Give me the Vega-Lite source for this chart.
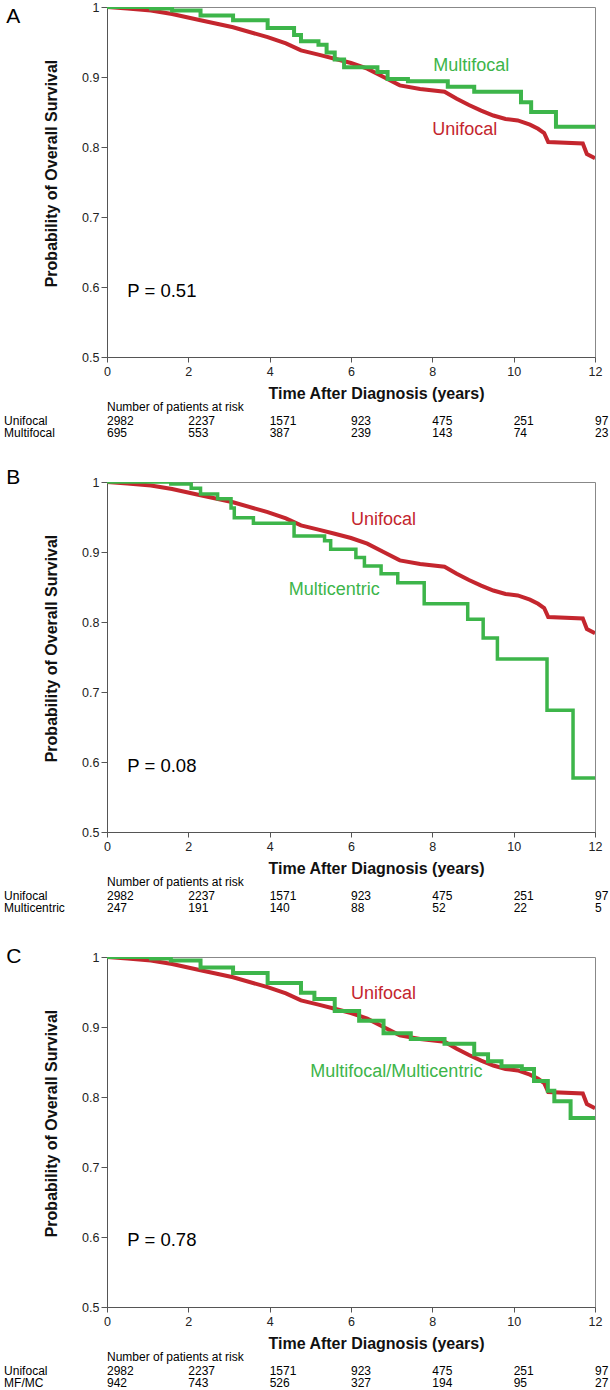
{
  "$schema": "https://vega.github.io/schema/vega-lite/v6.json",
  "background": "white",
  "padding": {"left": 3, "top": 0, "right": 0, "bottom": 0},
  "autosize": {"type": "pad"},
  "bounds": "flush",
  "spacing": 125,
  "config": {
    "font": "Liberation Sans",
    "view": {"stroke": "#888", "strokeWidth": 1},
    "axis": {
      "domainColor": "#555", "tickColor": "#555", "labelColor": "#222",
      "labelFont": "Liberation Sans", "labelFontSize": 12.5,
      "titleFont": "Liberation Sans", "titleFontSize": 16, "titleFontWeight": "bold", "titleColor": "#111",
      "grid": false, "labelFlush": false, "labelOverlap": false
    },
    "text": {"font": "Liberation Sans"}
  },
  "datasets": {
    "curves": [
      {"panel": "all", "series": "Unifocal", "t": 0, "s": 1.0},
      {"panel": "all", "series": "Unifocal", "t": 0.5, "s": 0.998},
      {"panel": "all", "series": "Unifocal", "t": 1.08, "s": 0.995},
      {"panel": "all", "series": "Unifocal", "t": 1.6, "s": 0.99},
      {"panel": "all", "series": "Unifocal", "t": 2.3, "s": 0.981},
      {"panel": "all", "series": "Unifocal", "t": 3.1, "s": 0.971},
      {"panel": "all", "series": "Unifocal", "t": 3.95, "s": 0.957},
      {"panel": "all", "series": "Unifocal", "t": 4.4, "s": 0.948},
      {"panel": "all", "series": "Unifocal", "t": 4.77, "s": 0.938},
      {"panel": "all", "series": "Unifocal", "t": 5.2, "s": 0.932},
      {"panel": "all", "series": "Unifocal", "t": 5.6, "s": 0.926},
      {"panel": "all", "series": "Unifocal", "t": 6.0, "s": 0.92},
      {"panel": "all", "series": "Unifocal", "t": 6.4, "s": 0.912},
      {"panel": "all", "series": "Unifocal", "t": 6.8, "s": 0.9},
      {"panel": "all", "series": "Unifocal", "t": 7.2, "s": 0.888},
      {"panel": "all", "series": "Unifocal", "t": 7.7, "s": 0.883},
      {"panel": "all", "series": "Unifocal", "t": 8.3, "s": 0.879},
      {"panel": "all", "series": "Unifocal", "t": 8.6, "s": 0.869},
      {"panel": "all", "series": "Unifocal", "t": 8.9, "s": 0.86},
      {"panel": "all", "series": "Unifocal", "t": 9.2, "s": 0.852},
      {"panel": "all", "series": "Unifocal", "t": 9.5, "s": 0.845},
      {"panel": "all", "series": "Unifocal", "t": 9.8, "s": 0.84},
      {"panel": "all", "series": "Unifocal", "t": 10.1, "s": 0.838},
      {"panel": "all", "series": "Unifocal", "t": 10.4, "s": 0.832},
      {"panel": "all", "series": "Unifocal", "t": 10.6, "s": 0.826},
      {"panel": "all", "series": "Unifocal", "t": 10.75, "s": 0.82},
      {"panel": "all", "series": "Unifocal", "t": 10.85, "s": 0.807},
      {"panel": "all", "series": "Unifocal", "t": 11.7, "s": 0.805},
      {"panel": "all", "series": "Unifocal", "t": 11.8, "s": 0.79},
      {"panel": "all", "series": "Unifocal", "t": 12, "s": 0.784},

      {"panel": "A", "series": "Multifocal", "t": 0, "s": 1.0},
      {"panel": "A", "series": "Multifocal", "t": 1.08, "s": 0.998},
      {"panel": "A", "series": "Multifocal", "t": 1.6, "s": 0.995},
      {"panel": "A", "series": "Multifocal", "t": 2.3, "s": 0.988},
      {"panel": "A", "series": "Multifocal", "t": 3.1, "s": 0.981},
      {"panel": "A", "series": "Multifocal", "t": 3.95, "s": 0.97},
      {"panel": "A", "series": "Multifocal", "t": 4.6, "s": 0.96},
      {"panel": "A", "series": "Multifocal", "t": 4.77, "s": 0.951},
      {"panel": "A", "series": "Multifocal", "t": 5.2, "s": 0.946},
      {"panel": "A", "series": "Multifocal", "t": 5.4, "s": 0.935},
      {"panel": "A", "series": "Multifocal", "t": 5.6, "s": 0.925},
      {"panel": "A", "series": "Multifocal", "t": 5.83, "s": 0.914},
      {"panel": "A", "series": "Multifocal", "t": 6.65, "s": 0.907},
      {"panel": "A", "series": "Multifocal", "t": 6.9, "s": 0.897},
      {"panel": "A", "series": "Multifocal", "t": 7.4, "s": 0.894},
      {"panel": "A", "series": "Multifocal", "t": 8.38, "s": 0.886},
      {"panel": "A", "series": "Multifocal", "t": 9.03, "s": 0.879},
      {"panel": "A", "series": "Multifocal", "t": 10.18, "s": 0.864},
      {"panel": "A", "series": "Multifocal", "t": 10.43, "s": 0.85},
      {"panel": "A", "series": "Multifocal", "t": 11.04, "s": 0.829},
      {"panel": "A", "series": "Multifocal", "t": 12, "s": 0.829},

      {"panel": "B", "series": "Multicentric", "t": 0, "s": 1.0},
      {"panel": "B", "series": "Multicentric", "t": 1.57, "s": 0.997},
      {"panel": "B", "series": "Multicentric", "t": 2.07, "s": 0.991},
      {"panel": "B", "series": "Multicentric", "t": 2.3, "s": 0.983},
      {"panel": "B", "series": "Multicentric", "t": 2.72, "s": 0.976},
      {"panel": "B", "series": "Multicentric", "t": 3.05, "s": 0.963},
      {"panel": "B", "series": "Multicentric", "t": 3.13, "s": 0.949},
      {"panel": "B", "series": "Multicentric", "t": 3.6, "s": 0.941},
      {"panel": "B", "series": "Multicentric", "t": 4.6, "s": 0.923},
      {"panel": "B", "series": "Multicentric", "t": 5.35, "s": 0.916},
      {"panel": "B", "series": "Multicentric", "t": 5.5, "s": 0.904},
      {"panel": "B", "series": "Multicentric", "t": 6.12, "s": 0.892},
      {"panel": "B", "series": "Multicentric", "t": 6.33, "s": 0.88},
      {"panel": "B", "series": "Multicentric", "t": 6.74, "s": 0.869},
      {"panel": "B", "series": "Multicentric", "t": 7.15, "s": 0.856},
      {"panel": "B", "series": "Multicentric", "t": 7.8, "s": 0.826},
      {"panel": "B", "series": "Multicentric", "t": 8.87, "s": 0.804},
      {"panel": "B", "series": "Multicentric", "t": 9.25, "s": 0.777},
      {"panel": "B", "series": "Multicentric", "t": 9.6, "s": 0.747},
      {"panel": "B", "series": "Multicentric", "t": 10.82, "s": 0.674},
      {"panel": "B", "series": "Multicentric", "t": 11.46, "s": 0.577},
      {"panel": "B", "series": "Multicentric", "t": 12, "s": 0.577},

      {"panel": "C", "series": "Multifocal/Multicentric", "t": 0, "s": 1.0},
      {"panel": "C", "series": "Multifocal/Multicentric", "t": 1.08, "s": 0.998},
      {"panel": "C", "series": "Multifocal/Multicentric", "t": 1.57, "s": 0.995},
      {"panel": "C", "series": "Multifocal/Multicentric", "t": 2.3, "s": 0.985},
      {"panel": "C", "series": "Multifocal/Multicentric", "t": 3.1, "s": 0.977},
      {"panel": "C", "series": "Multifocal/Multicentric", "t": 3.95, "s": 0.963},
      {"panel": "C", "series": "Multifocal/Multicentric", "t": 4.77, "s": 0.949},
      {"panel": "C", "series": "Multifocal/Multicentric", "t": 5.1, "s": 0.94},
      {"panel": "C", "series": "Multifocal/Multicentric", "t": 5.6, "s": 0.923},
      {"panel": "C", "series": "Multifocal/Multicentric", "t": 6.2, "s": 0.909},
      {"panel": "C", "series": "Multifocal/Multicentric", "t": 6.8, "s": 0.891},
      {"panel": "C", "series": "Multifocal/Multicentric", "t": 7.47, "s": 0.883},
      {"panel": "C", "series": "Multifocal/Multicentric", "t": 8.3, "s": 0.876},
      {"panel": "C", "series": "Multifocal/Multicentric", "t": 9.03, "s": 0.861},
      {"panel": "C", "series": "Multifocal/Multicentric", "t": 9.37, "s": 0.851},
      {"panel": "C", "series": "Multifocal/Multicentric", "t": 9.7, "s": 0.844},
      {"panel": "C", "series": "Multifocal/Multicentric", "t": 10.2, "s": 0.84},
      {"panel": "C", "series": "Multifocal/Multicentric", "t": 10.5, "s": 0.823},
      {"panel": "C", "series": "Multifocal/Multicentric", "t": 10.84, "s": 0.809},
      {"panel": "C", "series": "Multifocal/Multicentric", "t": 11.0, "s": 0.794},
      {"panel": "C", "series": "Multifocal/Multicentric", "t": 11.4, "s": 0.77},
      {"panel": "C", "series": "Multifocal/Multicentric", "t": 12, "s": 0.77}
    ],
    "labels": [
      {"panel": "A", "series": "Multifocal", "t": 8.02, "s": 0.916},
      {"panel": "A", "series": "Unifocal", "t": 8.0, "s": 0.824},
      {"panel": "B", "series": "Unifocal", "t": 6.0, "s": 0.946},
      {"panel": "B", "series": "Multicentric", "t": 4.47, "s": 0.846},
      {"panel": "C", "series": "Unifocal", "t": 6.0, "s": 0.947},
      {"panel": "C", "series": "Multifocal/Multicentric", "t": 5.0, "s": 0.836}
    ],
    "ann": [
      {"panel": "A", "letter": "A", "p": "P = 0.51", "header": "Number of patients at risk"},
      {"panel": "B", "letter": "B", "p": "P = 0.08", "header": "Number of patients at risk"},
      {"panel": "C", "letter": "C", "p": "P = 0.78", "header": "Number of patients at risk"}
    ],
    "risk": [
      {"panel": "A", "row": 1, "group": "Unifocal", "t": 0, "n": 2982},
      {"panel": "A", "row": 1, "group": "Unifocal", "t": 2, "n": 2237},
      {"panel": "A", "row": 1, "group": "Unifocal", "t": 4, "n": 1571},
      {"panel": "A", "row": 1, "group": "Unifocal", "t": 6, "n": 923},
      {"panel": "A", "row": 1, "group": "Unifocal", "t": 8, "n": 475},
      {"panel": "A", "row": 1, "group": "Unifocal", "t": 10, "n": 251},
      {"panel": "A", "row": 1, "group": "Unifocal", "t": 12, "n": 97},
      {"panel": "A", "row": 2, "group": "Multifocal", "t": 0, "n": 695},
      {"panel": "A", "row": 2, "group": "Multifocal", "t": 2, "n": 553},
      {"panel": "A", "row": 2, "group": "Multifocal", "t": 4, "n": 387},
      {"panel": "A", "row": 2, "group": "Multifocal", "t": 6, "n": 239},
      {"panel": "A", "row": 2, "group": "Multifocal", "t": 8, "n": 143},
      {"panel": "A", "row": 2, "group": "Multifocal", "t": 10, "n": 74},
      {"panel": "A", "row": 2, "group": "Multifocal", "t": 12, "n": 23},
      {"panel": "B", "row": 1, "group": "Unifocal", "t": 0, "n": 2982},
      {"panel": "B", "row": 1, "group": "Unifocal", "t": 2, "n": 2237},
      {"panel": "B", "row": 1, "group": "Unifocal", "t": 4, "n": 1571},
      {"panel": "B", "row": 1, "group": "Unifocal", "t": 6, "n": 923},
      {"panel": "B", "row": 1, "group": "Unifocal", "t": 8, "n": 475},
      {"panel": "B", "row": 1, "group": "Unifocal", "t": 10, "n": 251},
      {"panel": "B", "row": 1, "group": "Unifocal", "t": 12, "n": 97},
      {"panel": "B", "row": 2, "group": "Multicentric", "t": 0, "n": 247},
      {"panel": "B", "row": 2, "group": "Multicentric", "t": 2, "n": 191},
      {"panel": "B", "row": 2, "group": "Multicentric", "t": 4, "n": 140},
      {"panel": "B", "row": 2, "group": "Multicentric", "t": 6, "n": 88},
      {"panel": "B", "row": 2, "group": "Multicentric", "t": 8, "n": 52},
      {"panel": "B", "row": 2, "group": "Multicentric", "t": 10, "n": 22},
      {"panel": "B", "row": 2, "group": "Multicentric", "t": 12, "n": 5},
      {"panel": "C", "row": 1, "group": "Unifocal", "t": 0, "n": 2982},
      {"panel": "C", "row": 1, "group": "Unifocal", "t": 2, "n": 2237},
      {"panel": "C", "row": 1, "group": "Unifocal", "t": 4, "n": 1571},
      {"panel": "C", "row": 1, "group": "Unifocal", "t": 6, "n": 923},
      {"panel": "C", "row": 1, "group": "Unifocal", "t": 8, "n": 475},
      {"panel": "C", "row": 1, "group": "Unifocal", "t": 10, "n": 251},
      {"panel": "C", "row": 1, "group": "Unifocal", "t": 12, "n": 97},
      {"panel": "C", "row": 2, "group": "MF/MC", "t": 0, "n": 942},
      {"panel": "C", "row": 2, "group": "MF/MC", "t": 2, "n": 743},
      {"panel": "C", "row": 2, "group": "MF/MC", "t": 4, "n": 526},
      {"panel": "C", "row": 2, "group": "MF/MC", "t": 6, "n": 327},
      {"panel": "C", "row": 2, "group": "MF/MC", "t": 8, "n": 194},
      {"panel": "C", "row": 2, "group": "MF/MC", "t": 10, "n": 95},
      {"panel": "C", "row": 2, "group": "MF/MC", "t": 12, "n": 27}
    ]
  },
  "vconcat": [
    {
      "width": 488, "height": 350,
      "layer": [
        {"data": {"name": "curves"}, "transform": [{"filter": "datum.series == 'Unifocal'"}],
         "mark": {"type": "line", "interpolate": "linear", "strokeWidth": 4, "clip": true},
         "encoding": {
           "x": {"field": "t", "type": "quantitative", "scale": {"domain": [0, 12], "nice": false, "zero": false},
                 "axis": {"values": [0, 2, 4, 6, 8, 10, 12], "title": "Time After Diagnosis (years)", "titleX": 269, "titleY": 41, "titleAlign": "center", "titleBaseline": "alphabetic", "tickSize": 5, "labelPadding": 3}},
           "y": {"field": "s", "type": "quantitative", "scale": {"domain": [0.5, 1], "nice": false, "zero": false},
                 "axis": {"values": [0.5, 0.6, 0.7, 0.8, 0.9, 1], "format": "~g", "title": "Probability of Overall Survival", "titleX": -56, "titleY": 166, "titleAlign": "center", "titleBaseline": "middle", "tickSize": 6, "labelPadding": 2}},
           "color": {"field": "series", "type": "nominal", "scale": {"domain": ["Unifocal", "Multifocal", "Multicentric", "Multifocal/Multicentric"], "range": ["#C4262E", "#3DB54A", "#3DB54A", "#3DB54A"]}, "legend": null}
         }},
        {"data": {"name": "curves"}, "transform": [{"filter": "datum.panel == 'A'"}],
         "mark": {"type": "line", "interpolate": "step-after", "strokeWidth": 4, "clip": true},
         "encoding": {
           "x": {"field": "t", "type": "quantitative", "scale": {"domain": [0, 12]}},
           "y": {"field": "s", "type": "quantitative", "scale": {"domain": [0.5, 1]}},
           "color": {"field": "series", "type": "nominal", "legend": null}
         }},
        {"data": {"name": "labels"}, "transform": [{"filter": "datum.panel == 'A'"}],
         "mark": {"type": "text", "align": "left", "baseline": "middle", "fontSize": 18},
         "encoding": {
           "x": {"field": "t", "type": "quantitative", "scale": {"domain": [0, 12]}},
           "y": {"field": "s", "type": "quantitative", "scale": {"domain": [0.5, 1]}},
           "text": {"field": "series"},
           "color": {"field": "series", "type": "nominal", "legend": null}
         }},
        {"data": {"name": "ann"}, "transform": [{"filter": "datum.panel == 'A'"}],
         "mark": {"type": "text", "align": "left", "baseline": "middle", "fontSize": 18.5, "color": "#000"},
         "encoding": {"x": {"datum": 0.5, "type": "quantitative", "scale": {"domain": [0, 12]}}, "y": {"datum": 0.595, "type": "quantitative", "scale": {"domain": [0.5, 1]}}, "text": {"field": "p"}}},
        {"data": {"name": "ann"}, "transform": [{"filter": "datum.panel == 'A'"}],
         "mark": {"type": "text", "align": "left", "baseline": "middle", "fontSize": 21, "color": "#000"},
         "encoding": {"x": {"datum": -2.48, "type": "quantitative", "scale": {"domain": [0, 12]}}, "y": {"datum": 0.986, "type": "quantitative", "scale": {"domain": [0.5, 1]}}, "text": {"field": "letter"}}},
        {"data": {"name": "ann"}, "transform": [{"filter": "datum.panel == 'A'"}],
         "mark": {"type": "text", "align": "left", "baseline": "middle", "fontSize": 12, "color": "#000"},
         "encoding": {"x": {"datum": 0, "type": "quantitative", "scale": {"domain": [0, 12]}}, "y": {"datum": 0.4286, "type": "quantitative", "scale": {"domain": [0.5, 1]}}, "text": {"field": "header"}}},
        {"data": {"name": "risk"}, "transform": [{"filter": "datum.panel == 'A' && datum.row == 1"}],
         "mark": {"type": "text", "align": "left", "baseline": "middle", "fontSize": 12, "color": "#000"},
         "encoding": {"x": {"field": "t", "type": "quantitative", "scale": {"domain": [0, 12]}}, "y": {"datum": 0.4086, "type": "quantitative", "scale": {"domain": [0.5, 1]}}, "text": {"field": "n"}}},
        {"data": {"name": "risk"}, "transform": [{"filter": "datum.panel == 'A' && datum.row == 2"}],
         "mark": {"type": "text", "align": "left", "baseline": "middle", "fontSize": 12, "color": "#000"},
         "encoding": {"x": {"field": "t", "type": "quantitative", "scale": {"domain": [0, 12]}}, "y": {"datum": 0.3914, "type": "quantitative", "scale": {"domain": [0.5, 1]}}, "text": {"field": "n"}}},
        {"data": {"name": "risk"}, "transform": [{"filter": "datum.panel == 'A' && datum.row == 1 && datum.t == 0"}],
         "mark": {"type": "text", "align": "left", "baseline": "middle", "fontSize": 12, "color": "#000"},
         "encoding": {"x": {"datum": -2.53, "type": "quantitative", "scale": {"domain": [0, 12]}}, "y": {"datum": 0.4086, "type": "quantitative", "scale": {"domain": [0.5, 1]}}, "text": {"field": "group"}}},
        {"data": {"name": "risk"}, "transform": [{"filter": "datum.panel == 'A' && datum.row == 2 && datum.t == 0"}],
         "mark": {"type": "text", "align": "left", "baseline": "middle", "fontSize": 12, "color": "#000"},
         "encoding": {"x": {"datum": -2.53, "type": "quantitative", "scale": {"domain": [0, 12]}}, "y": {"datum": 0.3914, "type": "quantitative", "scale": {"domain": [0.5, 1]}}, "text": {"field": "group"}}}
      ]
    },
    {
      "width": 488, "height": 350,
      "layer": [
        {"data": {"name": "curves"}, "transform": [{"filter": "datum.series == 'Unifocal'"}],
         "mark": {"type": "line", "interpolate": "linear", "strokeWidth": 4, "clip": true},
         "encoding": {
           "x": {"field": "t", "type": "quantitative", "scale": {"domain": [0, 12], "nice": false, "zero": false},
                 "axis": {"values": [0, 2, 4, 6, 8, 10, 12], "title": "Time After Diagnosis (years)", "titleX": 269, "titleY": 41, "titleAlign": "center", "titleBaseline": "alphabetic", "tickSize": 5, "labelPadding": 3}},
           "y": {"field": "s", "type": "quantitative", "scale": {"domain": [0.5, 1], "nice": false, "zero": false},
                 "axis": {"values": [0.5, 0.6, 0.7, 0.8, 0.9, 1], "format": "~g", "title": "Probability of Overall Survival", "titleX": -56, "titleY": 166, "titleAlign": "center", "titleBaseline": "middle", "tickSize": 6, "labelPadding": 2}},
           "color": {"field": "series", "type": "nominal", "scale": {"domain": ["Unifocal", "Multifocal", "Multicentric", "Multifocal/Multicentric"], "range": ["#C4262E", "#3DB54A", "#3DB54A", "#3DB54A"]}, "legend": null}
         }},
        {"data": {"name": "curves"}, "transform": [{"filter": "datum.panel == 'B'"}],
         "mark": {"type": "line", "interpolate": "step-after", "strokeWidth": 3.5, "clip": true},
         "encoding": {
           "x": {"field": "t", "type": "quantitative", "scale": {"domain": [0, 12]}},
           "y": {"field": "s", "type": "quantitative", "scale": {"domain": [0.5, 1]}},
           "color": {"field": "series", "type": "nominal", "legend": null}
         }},
        {"data": {"name": "labels"}, "transform": [{"filter": "datum.panel == 'B'"}],
         "mark": {"type": "text", "align": "left", "baseline": "middle", "fontSize": 18},
         "encoding": {
           "x": {"field": "t", "type": "quantitative", "scale": {"domain": [0, 12]}},
           "y": {"field": "s", "type": "quantitative", "scale": {"domain": [0.5, 1]}},
           "text": {"field": "series"},
           "color": {"field": "series", "type": "nominal", "legend": null}
         }},
        {"data": {"name": "ann"}, "transform": [{"filter": "datum.panel == 'B'"}],
         "mark": {"type": "text", "align": "left", "baseline": "middle", "fontSize": 18.5, "color": "#000"},
         "encoding": {"x": {"datum": 0.5, "type": "quantitative", "scale": {"domain": [0, 12]}}, "y": {"datum": 0.594, "type": "quantitative", "scale": {"domain": [0.5, 1]}}, "text": {"field": "p"}}},
        {"data": {"name": "ann"}, "transform": [{"filter": "datum.panel == 'B'"}],
         "mark": {"type": "text", "align": "left", "baseline": "middle", "fontSize": 21, "color": "#000"},
         "encoding": {"x": {"datum": -2.48, "type": "quantitative", "scale": {"domain": [0, 12]}}, "y": {"datum": 1.006, "type": "quantitative", "scale": {"domain": [0.5, 1]}}, "text": {"field": "letter"}}},
        {"data": {"name": "ann"}, "transform": [{"filter": "datum.panel == 'B'"}],
         "mark": {"type": "text", "align": "left", "baseline": "middle", "fontSize": 12, "color": "#000"},
         "encoding": {"x": {"datum": 0, "type": "quantitative", "scale": {"domain": [0, 12]}}, "y": {"datum": 0.4286, "type": "quantitative", "scale": {"domain": [0.5, 1]}}, "text": {"field": "header"}}},
        {"data": {"name": "risk"}, "transform": [{"filter": "datum.panel == 'B' && datum.row == 1"}],
         "mark": {"type": "text", "align": "left", "baseline": "middle", "fontSize": 12, "color": "#000"},
         "encoding": {"x": {"field": "t", "type": "quantitative", "scale": {"domain": [0, 12]}}, "y": {"datum": 0.4086, "type": "quantitative", "scale": {"domain": [0.5, 1]}}, "text": {"field": "n"}}},
        {"data": {"name": "risk"}, "transform": [{"filter": "datum.panel == 'B' && datum.row == 2"}],
         "mark": {"type": "text", "align": "left", "baseline": "middle", "fontSize": 12, "color": "#000"},
         "encoding": {"x": {"field": "t", "type": "quantitative", "scale": {"domain": [0, 12]}}, "y": {"datum": 0.3914, "type": "quantitative", "scale": {"domain": [0.5, 1]}}, "text": {"field": "n"}}},
        {"data": {"name": "risk"}, "transform": [{"filter": "datum.panel == 'B' && datum.row == 1 && datum.t == 0"}],
         "mark": {"type": "text", "align": "left", "baseline": "middle", "fontSize": 12, "color": "#000"},
         "encoding": {"x": {"datum": -2.53, "type": "quantitative", "scale": {"domain": [0, 12]}}, "y": {"datum": 0.4086, "type": "quantitative", "scale": {"domain": [0.5, 1]}}, "text": {"field": "group"}}},
        {"data": {"name": "risk"}, "transform": [{"filter": "datum.panel == 'B' && datum.row == 2 && datum.t == 0"}],
         "mark": {"type": "text", "align": "left", "baseline": "middle", "fontSize": 12, "color": "#000"},
         "encoding": {"x": {"datum": -2.53, "type": "quantitative", "scale": {"domain": [0, 12]}}, "y": {"datum": 0.3914, "type": "quantitative", "scale": {"domain": [0.5, 1]}}, "text": {"field": "group"}}}
      ]
    },
    {
      "width": 488, "height": 350,
      "layer": [
        {"data": {"name": "curves"}, "transform": [{"filter": "datum.series == 'Unifocal'"}],
         "mark": {"type": "line", "interpolate": "linear", "strokeWidth": 4, "clip": true},
         "encoding": {
           "x": {"field": "t", "type": "quantitative", "scale": {"domain": [0, 12], "nice": false, "zero": false},
                 "axis": {"values": [0, 2, 4, 6, 8, 10, 12], "title": "Time After Diagnosis (years)", "titleX": 269, "titleY": 41, "titleAlign": "center", "titleBaseline": "alphabetic", "tickSize": 5, "labelPadding": 3}},
           "y": {"field": "s", "type": "quantitative", "scale": {"domain": [0.5, 1], "nice": false, "zero": false},
                 "axis": {"values": [0.5, 0.6, 0.7, 0.8, 0.9, 1], "format": "~g", "title": "Probability of Overall Survival", "titleX": -56, "titleY": 166, "titleAlign": "center", "titleBaseline": "middle", "tickSize": 6, "labelPadding": 2}},
           "color": {"field": "series", "type": "nominal", "scale": {"domain": ["Unifocal", "Multifocal", "Multicentric", "Multifocal/Multicentric"], "range": ["#C4262E", "#3DB54A", "#3DB54A", "#3DB54A"]}, "legend": null}
         }},
        {"data": {"name": "curves"}, "transform": [{"filter": "datum.panel == 'C'"}],
         "mark": {"type": "line", "interpolate": "step-after", "strokeWidth": 4, "clip": true},
         "encoding": {
           "x": {"field": "t", "type": "quantitative", "scale": {"domain": [0, 12]}},
           "y": {"field": "s", "type": "quantitative", "scale": {"domain": [0.5, 1]}},
           "color": {"field": "series", "type": "nominal", "legend": null}
         }},
        {"data": {"name": "labels"}, "transform": [{"filter": "datum.panel == 'C'"}],
         "mark": {"type": "text", "align": "left", "baseline": "middle", "fontSize": 18},
         "encoding": {
           "x": {"field": "t", "type": "quantitative", "scale": {"domain": [0, 12]}},
           "y": {"field": "s", "type": "quantitative", "scale": {"domain": [0.5, 1]}},
           "text": {"field": "series"},
           "color": {"field": "series", "type": "nominal", "legend": null}
         }},
        {"data": {"name": "ann"}, "transform": [{"filter": "datum.panel == 'C'"}],
         "mark": {"type": "text", "align": "left", "baseline": "middle", "fontSize": 18.5, "color": "#000"},
         "encoding": {"x": {"datum": 0.5, "type": "quantitative", "scale": {"domain": [0, 12]}}, "y": {"datum": 0.596, "type": "quantitative", "scale": {"domain": [0.5, 1]}}, "text": {"field": "p"}}},
        {"data": {"name": "ann"}, "transform": [{"filter": "datum.panel == 'C'"}],
         "mark": {"type": "text", "align": "left", "baseline": "middle", "fontSize": 21, "color": "#000"},
         "encoding": {"x": {"datum": -2.48, "type": "quantitative", "scale": {"domain": [0, 12]}}, "y": {"datum": 1.0, "type": "quantitative", "scale": {"domain": [0.5, 1]}}, "text": {"field": "letter"}}},
        {"data": {"name": "ann"}, "transform": [{"filter": "datum.panel == 'C'"}],
         "mark": {"type": "text", "align": "left", "baseline": "middle", "fontSize": 12, "color": "#000"},
         "encoding": {"x": {"datum": 0, "type": "quantitative", "scale": {"domain": [0, 12]}}, "y": {"datum": 0.4286, "type": "quantitative", "scale": {"domain": [0.5, 1]}}, "text": {"field": "header"}}},
        {"data": {"name": "risk"}, "transform": [{"filter": "datum.panel == 'C' && datum.row == 1"}],
         "mark": {"type": "text", "align": "left", "baseline": "middle", "fontSize": 12, "color": "#000"},
         "encoding": {"x": {"field": "t", "type": "quantitative", "scale": {"domain": [0, 12]}}, "y": {"datum": 0.4086, "type": "quantitative", "scale": {"domain": [0.5, 1]}}, "text": {"field": "n"}}},
        {"data": {"name": "risk"}, "transform": [{"filter": "datum.panel == 'C' && datum.row == 2"}],
         "mark": {"type": "text", "align": "left", "baseline": "middle", "fontSize": 12, "color": "#000"},
         "encoding": {"x": {"field": "t", "type": "quantitative", "scale": {"domain": [0, 12]}}, "y": {"datum": 0.3914, "type": "quantitative", "scale": {"domain": [0.5, 1]}}, "text": {"field": "n"}}},
        {"data": {"name": "risk"}, "transform": [{"filter": "datum.panel == 'C' && datum.row == 1 && datum.t == 0"}],
         "mark": {"type": "text", "align": "left", "baseline": "middle", "fontSize": 12, "color": "#000"},
         "encoding": {"x": {"datum": -2.53, "type": "quantitative", "scale": {"domain": [0, 12]}}, "y": {"datum": 0.4086, "type": "quantitative", "scale": {"domain": [0.5, 1]}}, "text": {"field": "group"}}},
        {"data": {"name": "risk"}, "transform": [{"filter": "datum.panel == 'C' && datum.row == 2 && datum.t == 0"}],
         "mark": {"type": "text", "align": "left", "baseline": "middle", "fontSize": 12, "color": "#000"},
         "encoding": {"x": {"datum": -2.53, "type": "quantitative", "scale": {"domain": [0, 12]}}, "y": {"datum": 0.3914, "type": "quantitative", "scale": {"domain": [0.5, 1]}}, "text": {"field": "group"}}}
      ]
    }
  ]
}
